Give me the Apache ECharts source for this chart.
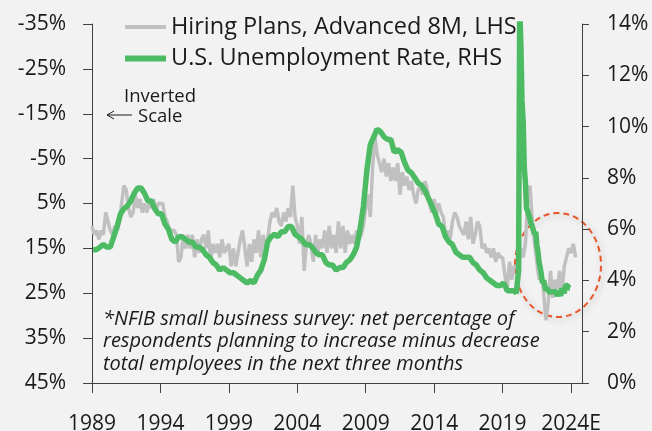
<!DOCTYPE html>
<html>
<head>
<meta charset="utf-8">
<script src="https://cdn.jsdelivr.net/npm/echarts@6/dist/echarts.min.js"></script>
<style>
html, body { margin: 0; padding: 0; background: #f2f2f2; }
#chart { width: 652px; height: 431px; }
</style>
</head>
<body>
<div id="chart"></div>
<script>
// x axis ticks (years)
const xTicks = [1989, 1994, 1999, 2004, 2009, 2014, 2019, 2024];

// US unemployment rate, quarterly 1989-2019 (%)
const unempQuarterly = [
  5.2, 5.2, 5.3, 5.4,   5.3, 5.3, 5.7, 6.1,   6.6, 6.8, 6.9, 7.1,
  7.4, 7.6, 7.6, 7.4,   7.1, 7.1, 6.8, 6.6,   6.6, 6.2, 6.0, 5.6,
  5.5, 5.7, 5.7, 5.6,   5.5, 5.5, 5.3, 5.3,   5.2, 5.0, 4.9, 4.7,
  4.6, 4.4, 4.5, 4.4,   4.3, 4.3, 4.2, 4.1,   4.0, 3.9, 4.0, 3.9,
  4.2, 4.4, 4.8, 5.5,   5.7, 5.8, 5.7, 5.9,   5.9, 6.1, 6.1, 5.8,
  5.7, 5.6, 5.4, 5.4,   5.3, 5.1, 5.0, 5.0,   4.7, 4.6, 4.6, 4.4,
  4.5, 4.5, 4.7, 4.8,   5.0, 5.3, 6.0, 6.9,   8.3, 9.3, 9.6, 9.9,
  9.8, 9.6, 9.5, 9.5,   9.0, 9.1, 9.0, 8.6,   8.3, 8.2, 8.0, 7.8,
  7.7, 7.5, 7.2, 6.9,   6.6, 6.2, 6.1, 5.7,   5.5, 5.4, 5.1, 5.0,
  4.9, 4.9, 4.9, 4.7,   4.6, 4.4, 4.3, 4.1,   4.0, 3.9, 3.8, 3.8,
  3.9, 3.6, 3.6, 3.6
];
// US unemployment rate, monthly 2020-2023 (%)
const unempMonthly = [
  3.5, 3.5, 4.4, 14.7, 13.2, 11.0, 10.2, 8.4, 7.8, 6.8, 6.7, 6.7,
  6.4, 6.2, 6.1, 6.1, 5.8, 5.9, 5.4, 5.1, 4.7, 4.5, 4.2, 3.9,
  4.0, 3.8, 3.6, 3.7, 3.6, 3.6, 3.5, 3.6, 3.5, 3.6, 3.6, 3.5,
  3.4, 3.6, 3.5, 3.4, 3.7, 3.6, 3.5, 3.8, 3.8, 3.8, 3.7, 3.7
];
// NFIB hiring plans advanced 8M, every two months from Jan 1989 (%)
const hiringPlans = [
  10, 12, 11, 13, 11, 12,    7, 9, 11, 12, 10, 11,     9, 5, 1, 2, 6, 8,
  7, 3, 6, 4, 7, 5,          7, 5, 6, 4, 7, 5,         5, 5, 8, 9, 12, 11,
  11, 12, 18, 17, 12, 15,    12, 15, 12, 17, 13, 16,   13, 12, 15, 11, 18, 14,
  16, 14, 17, 13, 16, 15,    14, 19, 15, 19, 16, 13,   11, 15, 19, 14, 18, 13,
  16, 11, 17, 12, 15, 13,    9, 7, 8, 6, 9, 10,        7, 9, 6, 8, 1, 8,
  10, 14, 8, 20, 14, 12,     14, 18, 12, 16, 13, 15,   11, 16, 10, 15, 12, 16,
  9, 15, 10, 16, 11, 14,     12, 14, 11, 13, 12, 10,   6, 3, 8, -3, -10, -6,
  -4, -2, -5, -1, -4, 0,     -3, 0, -4, 3, -2, 1,      -1, 2, 0, 3, 5, 2,
  1, 3, 0, 2, 5, 7,          4, 7, 5, 7, 8, 12,        11, 13, 9, 7, 8, 10,
  11, 12, 9, 13, 8, 14,      12, 9, 10, 15, 14, 16,    15, 17, 15, 18, 16, 17,
  17, 21, 24, 18, 22, 19,    19, 20, 15, 17, 14, 4,    1, 9, 14, 18, 22, 20,
  25, 31, 27, 20, 26, 22,    24, 20, 25, 19, 17, 15,   16, 14, 17
];

const unempData = [];
unempQuarterly.forEach((v, i) => {
  unempData.push([1989 + Math.floor(i / 4) + (3 * (i % 4) + 1) / 12, v]);
});
unempMonthly.forEach((v, i) => {
  unempData.push([2020 + i / 12, v]);
});
const hiringData = hiringPlans.map((v, i) => [1989 + i / 6, v]);

const textColor = '#1a1a1a';
const axisColor = '#404040';
const grayColor = '#c0c0c0';
const greenColor = '#4cbb64';
const font = 'Open Sans';

const chart = echarts.init(document.getElementById('chart'));
chart.setOption({
  backgroundColor: '#f2f2f2',
  animation: false,
  textStyle: { fontFamily: font },
  grid: { left: 92, right: 70, top: 24, bottom: 48, outerBoundsMode: 'none' },
  legend: {
    orient: 'vertical',
    left: 117,
    top: 10,
    itemWidth: 41,
    itemHeight: 14,
    itemGap: 7.5,
    itemTextGap: 12,
    itemStyle: { opacity: 0 },
    textStyle: { fontSize: 23.5, color: textColor, fontFamily: font },
    data: [
      { name: 'Hiring Plans, Advanced 8M, LHS', lineStyle: { width: 4, color: grayColor } },
      { name: 'U.S. Unemployment Rate, RHS', lineStyle: { width: 6, color: greenColor } },
    ],
  },
  xAxis: {
    type: 'value',
    min: 1989,
    max: 2024.8,
    axisLine: { show: true, onZero: false, lineStyle: { color: axisColor } },
    axisTick: {
      show: true,
      length: 10,
      customValues: xTicks,
      lineStyle: { color: axisColor },
    },
    axisLabel: {
      customValues: xTicks,
      formatter: (v) => (v === 2024 ? '2024E' : String(v)),
      fontSize: 21,
      margin: 31,
      color: textColor,
    },
    splitLine: { show: false },
  },
  yAxis: [
    {
      type: 'value',
      position: 'left',
      inverse: true,
      min: -35,
      max: 45,
      interval: 10,
      axisLine: { show: true, lineStyle: { color: axisColor } },
      axisTick: { show: true, length: 9, lineStyle: { color: axisColor } },
      axisLabel: { formatter: '{value}%', fontSize: 21, margin: 26, color: textColor },
      splitLine: { show: false },
    },
    {
      type: 'value',
      position: 'right',
      min: 0,
      max: 14,
      interval: 2,
      axisLine: { show: true, lineStyle: { color: axisColor } },
      axisTick: { show: true, length: 7, lineStyle: { color: axisColor } },
      axisLabel: { formatter: '{value}%', fontSize: 21, margin: 25, color: textColor },
      splitLine: { show: false },
    },
  ],
  series: [
    {
      name: 'Hiring Plans, Advanced 8M, LHS',
      type: 'line',
      yAxisIndex: 0,
      data: hiringData,
      showSymbol: false,
      symbol: 'none',
      lineStyle: { color: grayColor, width: 3.5 },
      itemStyle: { color: grayColor },
    },
    {
      name: 'U.S. Unemployment Rate, RHS',
      type: 'line',
      yAxisIndex: 1,
      data: unempData,
      showSymbol: false,
      symbol: 'none',
      clip: true,
      lineStyle: { color: greenColor, width: 5.5 },
      itemStyle: { color: greenColor },
    },
  ],
  graphic: [
    {
      type: 'text', x: 124, y: 97,
      style: { text: 'Inverted', fontSize: 18.5, fill: textColor, fontFamily: font, verticalAlign: 'middle' },
    },
    {
      type: 'text', x: 138, y: 117,
      style: { text: 'Scale', fontSize: 18.5, fill: textColor, fontFamily: font, verticalAlign: 'middle' },
    },
    {
      type: 'polyline',
      shape: { points: [[132, 115], [107, 115]] },
      style: { stroke: textColor, lineWidth: 1, fill: null },
    },
    {
      type: 'polyline',
      shape: { points: [[114, 111], [107, 115], [114, 119]] },
      style: { stroke: textColor, lineWidth: 1, fill: null },
    },
    {
      type: 'text', x: 103, y: 308,
      style: {
        text: '*NFIB small business survey: net percentage of\nrespondents planning to increase minus decrease\ntotal employees in the next three months',
        fontSize: 20, fontStyle: 'italic', lineHeight: 22.5, fill: textColor, fontFamily: font,
      },
    },
    {
      type: 'ellipse',
      shape: { cx: 558, cy: 265, rx: 43, ry: 52 },
      style: {
        fill: null, stroke: '#e8572c', lineWidth: 2, lineDash: [6, 4],
        shadowBlur: 6, shadowColor: 'rgba(0,0,0,0.25)', shadowOffsetX: 2, shadowOffsetY: 2,
      },
    },
  ],
});
</script>
</body>
</html>
